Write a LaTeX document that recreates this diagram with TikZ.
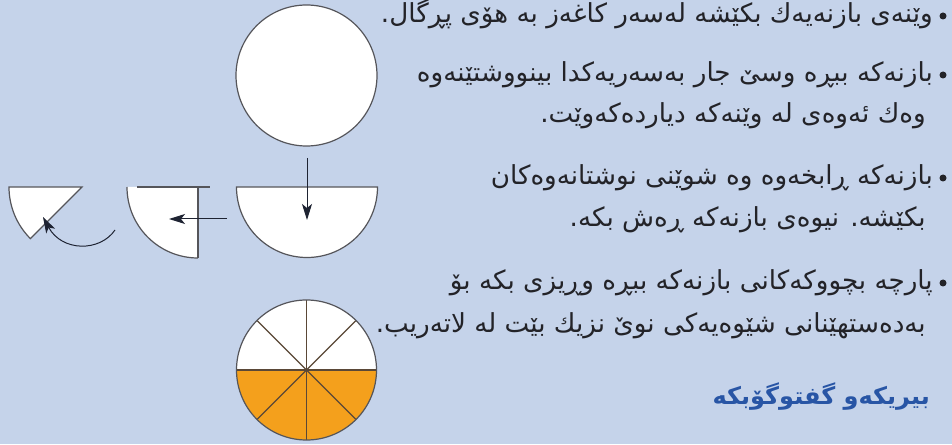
\documentclass[tikz,border=0pt]{standalone}
\usepackage{fontspec}
\usetikzlibrary{arrows.meta}
\TeXXeTstate=1
\newfontfamily\kurd[Script=Arabic]{DejaVu Sans}
\definecolor{bg}{RGB}{197,211,234}
\definecolor{textc}{RGB}{35,35,40}
\definecolor{headc}{RGB}{40,85,165}
\definecolor{orangec}{RGB}{244,160,28}
\definecolor{edgec}{RGB}{85,85,90}
\definecolor{spokec}{RGB}{90,72,55}
\definecolor{arrc}{RGB}{30,35,50}
\tikzset{
  txt/.style={anchor=base east, inner sep=0pt, text=textc, font=\kurd\fontsize{26.2}{30}\selectfont},
  headtxt/.style={anchor=base east, inner sep=0pt, text=headc, font=\kurd\bfseries\fontsize{24}{28}\selectfont},
  bulletdot/.style={circle, fill=textc, inner sep=0pt, minimum size=7pt},
  shapeline/.style={draw=edgec, line width=1.2pt},
  spoke/.style={draw=spokec, line width=1.1pt},
  arrowline/.style={draw=arrc, line width=1pt, -{Stealth[length=16pt,width=10pt,inset=4pt]}}
}
\begin{document}
\begin{tikzpicture}[x=1pt,y=1pt]
\fill[bg] (0,0) rectangle (952,444);
\useasboundingbox (0,0) rectangle (952,444);

% top circle
\coordinate (topc) at (306.5,368.5);
\filldraw[fill=white, shapeline] (topc) circle[radius=70.5];

% semicircle
\coordinate (semic) at (307,257);
\filldraw[fill=white, shapeline] (236.5,257) arc[start angle=180, end angle=360, radius=70.5] -- cycle;

% quarter circle
\coordinate (quarc) at (198,257);
\fill[white] (quarc) -- (127,257) arc[start angle=180, end angle=270, radius=71] -- cycle;
\draw[shapeline] (127,257) arc[start angle=180, end angle=270, radius=71];
\draw[shapeline] (137,257) -- (210,257);
\draw[shapeline] (198,257) -- (198,186);

% eighth wedge
\coordinate (wedc) at (82,257);
\filldraw[fill=white, shapeline] (wedc) -- (9,257) arc[start angle=180, end angle=225, radius=73] -- cycle;

% arrows
\coordinate (a1s) at (307,286);
\coordinate (a1e) at (307,224);
\draw[arrowline] (a1s) -- (a1e);
\coordinate (a2s) at (227,225);
\coordinate (a2e) at (169,225);
\draw[arrowline] (a2s) -- (a2e);
\coordinate (a3s) at (115,214);
\coordinate (a3e) at (43,227);
\draw[arrowline] (a3s) .. controls (100,192) and (62,192) .. (a3e);

% bottom circle
\coordinate (botc) at (306.5,74);
\fill[white] (botc) circle[radius=70];
\fill[orangec] (236.5,74) arc[start angle=180, end angle=360, radius=70] -- cycle;
\draw[spoke] (236.5,74) -- (376.5,74);
\draw[spoke] (306.5,4) -- (306.5,144);
\draw[spoke] (botc) ++(45:70) -- ++(225:140);
\draw[spoke] (botc) ++(135:70) -- ++(-45:140);
\draw[shapeline] (botc) circle[radius=70];

% bullets
\node[bulletdot] (b1) at (943,428) {};
\node[bulletdot] (b2) at (943,369) {};
\node[bulletdot] (b4) at (943,266) {};
\node[bulletdot] (b6) at (943,161) {};

% text
\node[txt] (l1) at (933,421) {\beginR وێنەی بازنەیەك بکێشە لەسەر کاغەز بە هۆی پڕگال.\endR};
\node[txt] (l2) at (933,362) {\beginR بازنەکە ببڕە وسێ جار بەسەریەکدا بینووشتێنەوە\endR};
\node[txt] (l3) at (926,321) {\beginR وەك ئەوەی لە وێنەکە دیاردەکەوێت.\endR};
\node[txt] (l4) at (933,259) {\beginR بازنەکە ڕابخەوە وە شوێنی نوشتانەوەکان\endR};
\node[txt] (l5) at (926,217) {\beginR بکێشە. نیوەی بازنەکە ڕەش بکە.\endR};
\node[txt] (l6) at (933,154) {\beginR پارچە بچووکەکانی بازنەکە ببڕە وڕیزی بکە بۆ\endR};
\node[txt] (l7) at (926,111) {\beginR بەدەستهێنانی شێوەیەکی نوێ نزیك بێت لە لاتەریب.\endR};
\node[headtxt] (hd) at (930,39) {\beginR بیریکەو گفتوگۆبکە\endR};
\end{tikzpicture}
\end{document}
